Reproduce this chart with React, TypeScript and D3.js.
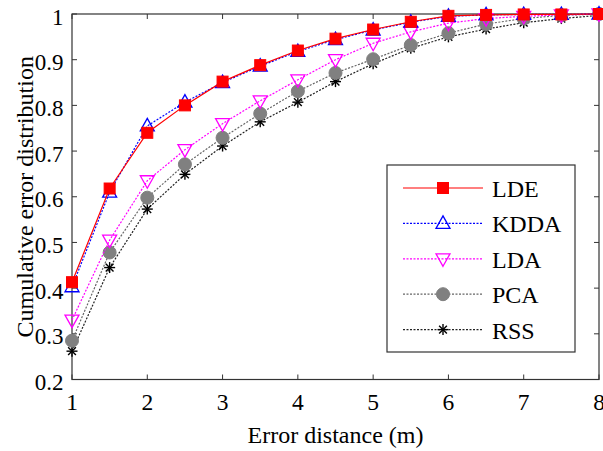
import * as d3 from "d3";
import { useEffect, useRef } from "react";

const xs = [1, 1.5, 2, 2.5, 3, 3.5, 4, 4.5, 5, 5.5, 6, 6.5, 7, 7.5, 8];
const lde = [0.413, 0.618, 0.74, 0.8, 0.852, 0.888, 0.92, 0.946, 0.966, 0.983, 0.996, 0.998, 0.999, 0.999, 1.0];
const kdda = [0.403, 0.61, 0.755, 0.807, 0.85, 0.886, 0.918, 0.944, 0.965, 0.982, 0.995, 0.998, 0.999, 0.999, 1.0];
const lda = [0.33, 0.505, 0.635, 0.703, 0.76, 0.81, 0.856, 0.9, 0.936, 0.961, 0.98, 0.99, 0.995, 0.998, 1.0];
const pca = [0.285, 0.478, 0.598, 0.671, 0.729, 0.782, 0.831, 0.871, 0.901, 0.932, 0.958, 0.978, 0.99, 0.997, 1.0];
const rss = [0.262, 0.445, 0.573, 0.649, 0.711, 0.764, 0.807, 0.852, 0.891, 0.925, 0.95, 0.967, 0.981, 0.99, 0.997];
const xTicks = [1, 2, 3, 4, 5, 6, 7, 8];
const yTicks = [0.2, 0.3, 0.4, 0.5, 0.6, 0.7, 0.8, 0.9, 1];

const series = [
  { name: "LDE", values: lde, color: "#ff0000", dash: null, marker: "square" },
  { name: "KDDA", values: kdda, color: "#0000ff", dash: "2,1.5", marker: "triUp" },
  { name: "LDA", values: lda, color: "#ff00ff", dash: "2,1.5", marker: "triDown" },
  { name: "PCA", values: pca, color: "#666666", dash: "2,1.5", marker: "circle" },
  { name: "RSS", values: rss, color: "#222222", dash: "2,1.5", marker: "star" },
];

const W = 603;
const H = 451;
const FONT = "'Liberation Serif', 'Times New Roman', serif";

const drawMarker = (g, type, x, y, color) => {
  if (type === "square") {
    g.append("rect").attr("x", x - 5.5).attr("y", y - 5.5).attr("width", 11).attr("height", 11)
      .attr("fill", color).attr("stroke", color);
  } else if (type === "triUp") {
    g.append("path").attr("d", `M${x},${y - 7.5}L${x + 7},${y + 5}L${x - 7},${y + 5}Z`)
      .attr("fill", "none").attr("stroke", color).attr("stroke-width", 1.3);
  } else if (type === "triDown") {
    g.append("path").attr("d", `M${x},${y + 7.5}L${x + 7},${y - 5}L${x - 7},${y - 5}Z`)
      .attr("fill", "none").attr("stroke", color).attr("stroke-width", 1.3);
  } else if (type === "circle") {
    g.append("circle").attr("cx", x).attr("cy", y).attr("r", 6.5).attr("fill", "#808080").attr("stroke", "#808080");
  } else if (type === "star") {
    const r = 5.5;
    [0, 45, 90, 135].forEach((a) => {
      const rad = (a * Math.PI) / 180;
      g.append("line")
        .attr("x1", x - r * Math.cos(rad)).attr("y1", y - r * Math.sin(rad))
        .attr("x2", x + r * Math.cos(rad)).attr("y2", y + r * Math.sin(rad))
        .attr("stroke", "#000").attr("stroke-width", 1.4);
    });
  }
};

const App = () => {
  const ref = useRef(null);

  useEffect(() => {
    const svg = d3.select(ref.current);
    svg.selectAll("*").remove();

    const left = 72, right = 599, top = 14, bottom = 379.5;
    const x = d3.scaleLinear().domain([1, 8]).range([left, right]);
    const y = d3.scaleLinear().domain([0.2, 1]).range([bottom, top]);

    svg.append("rect").attr("width", W).attr("height", H).attr("fill", "#fff");

    // box
    svg.append("rect").attr("x", left).attr("y", top).attr("width", right - left).attr("height", bottom - top)
      .attr("fill", "none").attr("stroke", "#333").attr("stroke-width", 1.2);

    const tl = 5;
    xTicks.forEach((t) => {
      svg.append("line").attr("x1", x(t)).attr("x2", x(t)).attr("y1", bottom).attr("y2", bottom - tl).attr("stroke", "#333");
      svg.append("line").attr("x1", x(t)).attr("x2", x(t)).attr("y1", top).attr("y2", top + tl).attr("stroke", "#333");
      svg.append("text").attr("x", x(t)).attr("y", bottom + 30).attr("text-anchor", "middle")
        .attr("font-family", FONT).attr("font-size", 23.5).attr("fill", "#000").text(d3.format("d")(t));
    });
    yTicks.forEach((t) => {
      svg.append("line").attr("x1", left).attr("x2", left + tl).attr("y1", y(t)).attr("y2", y(t)).attr("stroke", "#333");
      svg.append("line").attr("x1", right).attr("x2", right - tl).attr("y1", y(t)).attr("y2", y(t)).attr("stroke", "#333");
      svg.append("text").attr("x", left - 8.5).attr("y", y(t) + 10.5).attr("text-anchor", "end")
        .attr("font-family", FONT).attr("font-size", 23).attr("fill", "#000").text(t === 1 ? "1" : d3.format(".1f")(t));
    });

    svg.append("text").attr("x", (left + right) / 2).attr("y", 442.5).attr("text-anchor", "middle")
      .attr("font-family", FONT).attr("font-size", 24).attr("fill", "#000").text("Error distance (m)");
    svg.append("text").attr("transform", `translate(33,${(top + bottom) / 2}) rotate(-90)`)
      .attr("text-anchor", "middle").attr("font-family", FONT).attr("font-size", 24).attr("fill", "#000")
      .text("Cumulative error distribution");

    const line = d3.line().x((d) => x(d[0])).y((d) => y(d[1]));

    series.slice().reverse().forEach((s) => {
      const pts = xs.map((v, i) => [v, s.values[i]]);
      svg.append("path").attr("d", line(pts)).attr("fill", "none").attr("stroke", s.color)
        .attr("stroke-width", 1.2).attr("stroke-dasharray", s.dash);
      const g = svg.append("g");
      pts.forEach((p) => drawMarker(g, s.marker, x(p[0]), y(p[1]), s.color));
    });

    // legend
    const lg = svg.append("g");
    lg.append("rect").attr("x", 387).attr("y", 165).attr("width", 188).attr("height", 187)
      .attr("fill", "#fff").attr("stroke", "#333").attr("stroke-width", 1.2);
    series.forEach((s, i) => {
      const ly = 188 + i * 35.4;
      lg.append("line").attr("x1", 403).attr("x2", 483).attr("y1", ly).attr("y2", ly)
        .attr("stroke", s.color).attr("stroke-width", 1.2).attr("stroke-dasharray", s.dash);
      drawMarker(lg, s.marker, 443, ly, s.color);
      lg.append("text").attr("x", 492).attr("y", ly + 9).attr("font-family", FONT).attr("font-size", 24)
        .attr("fill", "#000").text(s.name);
    });
  }, []);

  return <svg ref={ref} width={W} height={H} style={{ display: "block", position: "absolute", left: 0, top: 0 }} />;
};

export default App;
